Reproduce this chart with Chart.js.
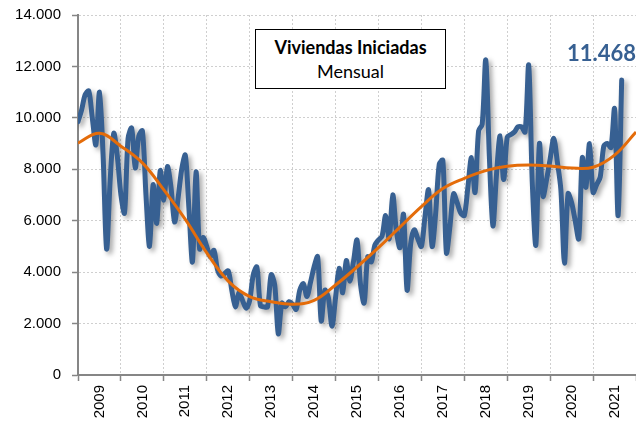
<!DOCTYPE html>
<html>
<head>
<meta charset="utf-8">
<script src="https://cdn.jsdelivr.net/npm/chart.js@4.4.1/dist/chart.umd.min.js"></script>
<style>
  html, body { margin: 0; padding: 0; background: #fff; }
  #wrap { position: relative; width: 636px; height: 427px; }
  #titulo {
    position: absolute; left: 255px; top: 29px; width: 191px; height: 60px;
    border: 1px solid #000; background: #fff; text-align: center;
    font-family: Lato, Carlito, sans-serif; font-size: 18px; line-height: 24px;
    padding-top: 5px; box-sizing: border-box; color: #000;
  }
  #titulo b { font-weight: 700; }
</style>
</head>
<body>
<div id="wrap">
  <canvas id="grafico" width="636" height="427"></canvas>
  <div id="titulo"><b>Viviendas Iniciadas</b><br>Mensual</div>
</div>
<script>
// Años del eje X (una etiqueta por año, centrada entre divisiones)
const anios = ['2009', '2010', '2011', '2012', '2013', '2014', '2015', '2016', '2017', '2018', '2019', '2020', '2021'];

// Viviendas iniciadas, serie mensual desde enero 2009
const iniciadas = [
  9850, 10300, 10900, 11050, 10000, 8950, 11000, 8600, 4900, 7600, 9400, 8500,
  7000, 6300, 9200, 9600, 8050, 9300, 9500, 7000, 5000, 7400, 5900, 7950,
  6800, 8100, 7300, 5950, 6900, 8000, 8550, 6500, 4400, 7900, 4900, 5350,
  5000, 4600, 4850, 4100, 3850, 3950, 4050, 3300, 2650, 3200, 2900, 2600,
  2900, 3900, 4200, 2700, 2650, 2650, 3900, 3500, 1600, 2800, 2650, 2850,
  2750, 2550, 3300, 3550, 3050, 3600, 4200, 4600, 2100, 3300, 3000, 1900,
  3000, 4150, 3200, 4450, 3650, 4400, 5250, 3500, 2800, 4600, 4400, 5050,
  5250, 5400, 6200, 5300, 7000, 5600, 4950, 6250, 3300, 5100, 5650, 5300,
  5000, 6150, 7200, 5000, 6300, 8200, 8350, 4750, 5800, 7050, 6700, 6300,
  6200, 7300, 8450, 7100, 9500, 9750, 12250, 8500, 5800, 7800, 9300, 7600,
  9250, 9350, 9450, 9650, 9650, 9450, 12050, 7500, 5050, 9000, 6950, 7600,
  8400, 9200, 8300, 7200, 4350, 7050, 6700, 6000, 5300, 8450, 7300, 9000,
  7100, 7400, 7700, 8900, 9000, 8850, 10350, 6200, 11468
];

// Tendencia (leída cada 6 meses)
const tendenciaMes = [0, 6, 12, 18, 24, 30, 36, 42, 48, 54, 60, 66, 72, 78, 84, 90, 96, 102, 108, 114, 120, 126, 132, 138, 144, 150, 156];
const tendencia = [9020, 9400, 8900, 8250, 7200, 6050, 4750, 3650, 3050, 2850, 2750, 2900, 3500, 4200, 4950, 5750, 6550, 7250, 7650, 7950, 8120, 8170, 8130, 8050, 8080, 8550, 9450];

// Ticks del eje Y
const ticksY = [0, 2000, 4000, 6000, 8000, 10000, 12000, 14000];

const AZUL = '#376092';
const NARANJA = '#E46C0A';
const GRIS_EJE = '#868686';
const GRIS_GRILLA = '#cfcfcf';

function miles(v) {
  return String(v).replace(/\B(?=(\d{3})+(?!\d))/g, '.');
}

// Sombra bajo la serie mensual
const sombraPlugin = {
  id: 'sombra',
  beforeDatasetDraw(chart, args) {
    if (args.index !== 0) return;
    const ctx = chart.ctx;
    ctx.save();
    ctx.shadowColor = 'rgba(0,0,0,0.35)';
    ctx.shadowBlur = 5;
    ctx.shadowOffsetX = 3;
    ctx.shadowOffsetY = 3;
  },
  afterDatasetDraw(chart, args) {
    if (args.index !== 0) return;
    chart.ctx.restore();
  }
};

// Etiqueta del último dato
const etiquetaPlugin = {
  id: 'etiquetaFinal',
  afterDatasetsDraw(chart) {
    const meta = chart.getDatasetMeta(0);
    const ultimo = meta.data[meta.data.length - 1];
    const ctx = chart.ctx;
    ctx.save();
    ctx.font = 'bold 22px Lato, Carlito, sans-serif';
    ctx.fillStyle = AZUL;
    ctx.textAlign = 'right';
    ctx.textBaseline = 'middle';
    ctx.fillText(miles(iniciadas[iniciadas.length - 1]), 636, ultimo.y - 26);
    ctx.restore();
  }
};

new Chart(document.getElementById('grafico'), {
  type: 'line',
  data: {
    datasets: [
      {
        label: 'Mensual',
        data: iniciadas.map((v, i) => ({ x: i, y: v })),
        borderColor: AZUL,
        borderWidth: 5,
        pointRadius: 0,
        tension: 0.3,
        borderJoinStyle: 'round',
        borderCapStyle: 'round',
        order: 1
      },
      {
        label: 'Tendencia',
        data: tendencia.map((v, i) => ({ x: tendenciaMes[i], y: v })),
        borderColor: NARANJA,
        borderWidth: 3,
        pointRadius: 0,
        tension: 0.4,
        order: 0
      }
    ]
  },
  options: {
    responsive: false,
    animation: false,
    layout: { padding: { top: 15, right: 0, left: 0, bottom: 0 } },
    plugins: {
      legend: { display: false },
      tooltip: { enabled: false }
    },
    scales: {
      x: {
        type: 'linear',
        min: 0,
        max: 156,
        afterFit(scale) {
          scale.height = 52;
          scale.paddingLeft = 0;
          scale.paddingRight = 0;
        },
        ticks: {
          stepSize: 6,
          autoSkip: false,
          minRotation: 90,
          maxRotation: 90,
          padding: 4,
          color: '#000',
          font: { family: 'Liberation Sans, Arial, sans-serif', size: 15 },
          callback: (v) => (v % 12 === 6 ? anios[(v - 6) / 12] : '')
        },
        grid: {
          color: (c) => (c.tick && c.tick.value % 12 === 0 ? GRIS_GRILLA : 'rgba(0,0,0,0)'),
          tickColor: (c) => (c.tick && c.tick.value % 12 === 0 ? GRIS_EJE : 'rgba(0,0,0,0)'),
          tickLength: 6,
          tickWidth: 1.5
        },
        border: { color: GRIS_EJE, width: 2, dash: [2, 2] }
      },
      y: {
        min: 0,
        max: 14000,
        afterFit(scale) {
          scale.width = 78;
          scale.paddingTop = 0;
          scale.paddingBottom = 0;
        },
        afterBuildTicks(scale) { scale.ticks = ticksY.map(v => ({ value: v })); },
        ticks: {
          padding: 11,
          color: '#000',
          font: { family: 'Liberation Sans, Arial, sans-serif', size: 15 },
          callback: (v) => miles(v)
        },
        grid: {
          color: GRIS_GRILLA,
          tickColor: GRIS_EJE,
          tickLength: 6,
          tickWidth: 1.5
        },
        border: { color: GRIS_EJE, width: 2, dash: [2, 2] }
      }
    }
  },
  plugins: [sombraPlugin, etiquetaPlugin]
});
</script>
</body>
</html>
